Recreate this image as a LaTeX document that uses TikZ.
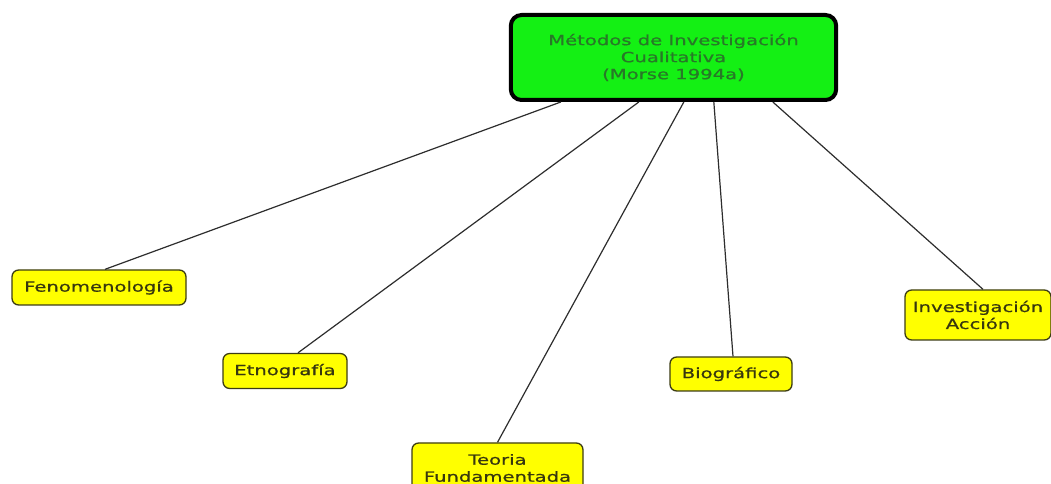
\documentclass[tikz,border=0pt]{standalone}
\usepackage{fontspec}
\newfontfamily\mapfont[FakeStretch=1.4,FakeBold=0.8]{DejaVu Sans}
\usetikzlibrary{calc}
\definecolor{rootfill}{RGB}{20,240,20}
\definecolor{roottext}{RGB}{40,120,40}
\definecolor{leaffill}{RGB}{255,255,0}
\definecolor{leafedge}{RGB}{60,60,20}
\definecolor{leaftext}{RGB}{55,55,15}
\definecolor{linkcol}{RGB}{45,45,45}
\tikzset{
  root/.style={draw=black, line width=3pt, rounded corners=8pt, fill=rootfill,
    text=roottext, align=center, inner sep=0pt,
    font=\mapfont\fontsize{10.5}{12.75}\selectfont},
  leaf/.style={draw=leafedge, line width=1pt, rounded corners=5pt, fill=leaffill,
    text=leaftext, align=center, inner sep=0pt,
    font=\mapfont\fontsize{10.5}{12.75}\selectfont},
  link/.style={draw=linkcol, line width=0.9pt}
}
\begin{document}
\begin{tikzpicture}[x=0.75pt, y=-0.75pt]
  \useasboundingbox[fill=white] (0,0) rectangle (1051,484);

  % central topic
  \node[root, minimum width=244pt, minimum height=63.75pt] (g) at (673.5,57.5)
    {Métodos de Investigación\\Cualitativa\\(Morse 1994a)};

  % the five methods
  \node[leaf, minimum width=130.5pt, minimum height=26.25pt] (fen) at (99,287.5) {Fenomenología};
  \node[leaf, minimum width=93pt, minimum height=26.25pt] (etn) at (285,371) {Etnografía};
  \node[leaf, minimum width=128.25pt, minimum height=37.5pt] (teo) at (497.5,468) {Teoria\\Fundamentada};
  \node[leaf, minimum width=91.5pt, minimum height=25.5pt] (bio) at (731,374) {Biográfico};
  \node[leaf, minimum width=109.5pt, minimum height=37.5pt] (inv) at (978,315) {Investigación\\Acción};

  % attachment points on the lower edge of the central topic
  \coordinate (o1) at ($(g.south west)+(52,0)$);
  \coordinate (o2) at ($(g.south west)+(130,0)$);
  \coordinate (o3) at ($(g.south west)+(175,0)$);
  \coordinate (o4) at ($(g.south west)+(205,0)$);
  \coordinate (o5) at ($(g.south west)+(264,0)$);

  \draw[link] (o1) -- ($(fen.north)+(6,0)$);
  \draw[link] (o2) -- ($(etn.north)+(13,0)$);
  \draw[link] (o3) -- (teo.north);
  \draw[link] (o4) -- ($(bio.north)+(2,0)$);
  \draw[link] (o5) -- ($(inv.north)+(5,0)$);
\end{tikzpicture}
\end{document}
